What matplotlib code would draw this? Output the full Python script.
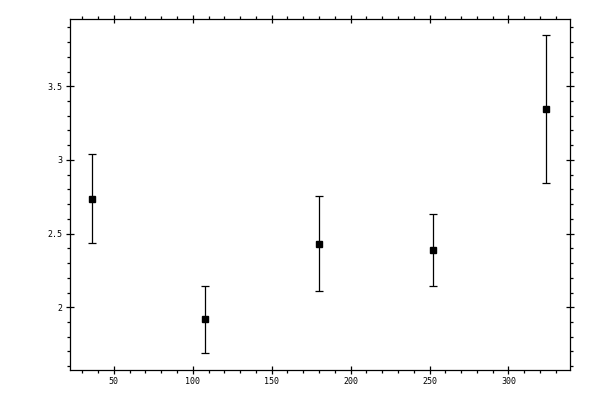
import matplotlib
matplotlib.use("Agg")
import matplotlib.pyplot as plt
from matplotlib.ticker import MultipleLocator

# values
x = [36, 108, 180, 252, 324]
y = [2.737, 1.919, 2.432, 2.387, 3.345]
err = [0.30, 0.228, 0.32, 0.245, 0.50]

fig = plt.figure(figsize=(6, 4), dpi=100)
ax = fig.add_axes([0.116, 0.075, 0.834, 0.877])

ax.errorbar(x, y, yerr=err, fmt='s', color='black', ms=5, capsize=3,
            elinewidth=0.9, capthick=0.9)

ax.set_xlim(22, 339)
ax.set_ylim(1.574, 3.955)

ax.xaxis.set_major_locator(MultipleLocator(50))
ax.xaxis.set_minor_locator(MultipleLocator(10))
ax.yaxis.set_major_locator(MultipleLocator(0.5))
ax.yaxis.set_minor_locator(MultipleLocator(0.1))
ax.yaxis.set_major_formatter(plt.FuncFormatter(lambda v, p: ('%g' % v)))

for s in ax.spines.values():
    s.set_linewidth(0.9)
ax.tick_params(which='major', direction='inout', length=6, width=0.9,
               top=True, right=True, labelsize=6, pad=2)
ax.tick_params(which='minor', direction='out', length=2.5, width=0.9,
               top=True, right=True)
for lab in ax.get_xticklabels() + ax.get_yticklabels():
    lab.set_family('DejaVu Sans Mono')

fig.savefig('out.png', dpi=100)
